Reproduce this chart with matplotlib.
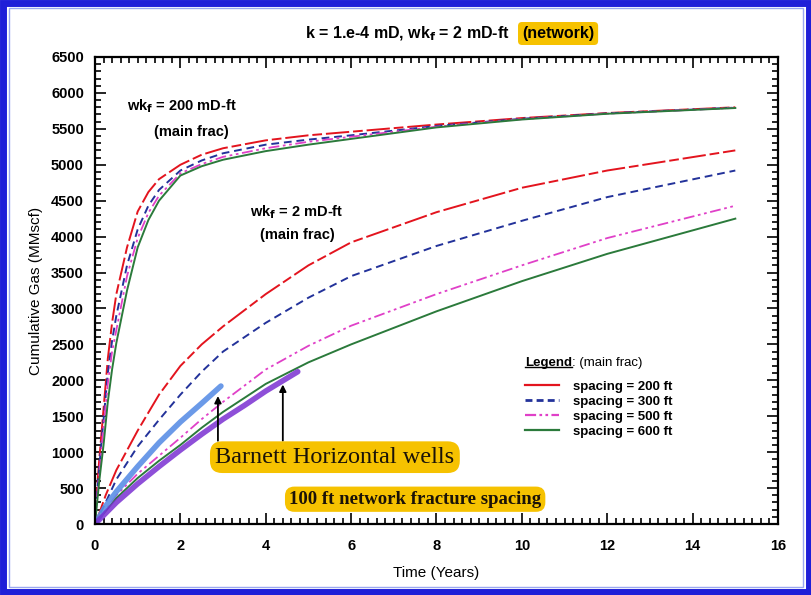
import matplotlib
matplotlib.use("Agg")
import matplotlib.pyplot as plt
from matplotlib.lines import Line2D
from matplotlib.patches import Rectangle
from matplotlib.ticker import MultipleLocator

plt.rcParams['font.family'] = ['Liberation Sans', 'DejaVu Sans']

# ---------------- data ----------------
t_high = [0, 0.05, 0.1, 0.2, 0.3, 0.4, 0.5, 0.75, 1, 1.25, 1.5, 2, 2.5, 3, 4, 5, 6, 8, 10, 12, 15]
red_high = [0, 500, 900, 1600, 2300, 2800, 3200, 3850, 4350, 4620, 4800, 5000, 5140, 5230, 5340, 5410, 5460, 5560, 5650, 5720, 5800]
blue_high = [0, 450, 800, 1450, 2100, 2550, 2900, 3600, 4100, 4430, 4650, 4920, 5060, 5160, 5280, 5350, 5410, 5540, 5640, 5715, 5795]
mag_high = [0, 400, 700, 1350, 1950, 2400, 2700, 3450, 3980, 4330, 4570, 4880, 5010, 5110, 5230, 5320, 5390, 5530, 5635, 5712, 5792]
green_high = [0, 300, 600, 1100, 1700, 2150, 2520, 3250, 3850, 4230, 4500, 4850, 4980, 5070, 5190, 5280, 5360, 5520, 5630, 5710, 5790]

t_low = [0, 0.1, 0.25, 0.5, 1, 1.5, 2, 2.5, 3, 4, 5, 6, 8, 10, 12, 15]
red_low = [0, 150, 400, 750, 1300, 1800, 2200, 2500, 2750, 3200, 3600, 3920, 4340, 4680, 4920, 5200]
blue_low = [0, 120, 300, 620, 1080, 1450, 1800, 2120, 2400, 2800, 3150, 3450, 3870, 4220, 4550, 4920]
mag_low = [0, 80, 200, 400, 700, 950, 1200, 1460, 1700, 2150, 2480, 2760, 3200, 3600, 3980, 4430]
green_low = [0, 70, 180, 360, 640, 880, 1100, 1340, 1560, 1950, 2250, 2500, 2960, 3380, 3760, 4250]

t_well1 = [0, 0.25, 0.5, 1, 1.5, 2, 2.5, 2.95]
well1 = [0, 250, 450, 800, 1130, 1420, 1680, 1920]
t_well2 = [0, 0.25, 0.5, 1, 1.5, 2, 2.5, 3, 3.5, 4, 4.5, 4.75]
well2 = [0, 150, 300, 560, 800, 1030, 1250, 1460, 1650, 1850, 2030, 2120]

spacing_labels = ['spacing = 200 ft', 'spacing = 300 ft', 'spacing = 500 ft', 'spacing = 600 ft']
x_ticks = [0, 2, 4, 6, 8, 10, 12, 14, 16]
y_ticks = list(range(0, 6501, 500))

# ---------------- styles ----------------
RED = '#e3141e'
BLUE = '#23329a'
MAG = '#e040c8'
GREEN = '#2b7a3b'
LBLUE = '#5b8fe6'
PURPLE = '#7a30d2'
GOLD = '#f6c200'

styles = [
    dict(color=RED, lw=1.4, dashes=(12, 2, 5, 2)),
    dict(color=BLUE, lw=1.4, dashes=(4, 2.5)),
    dict(color=MAG, lw=1.3, dashes=(6, 2, 1.5, 2, 1.5, 2)),
    dict(color=GREEN, lw=1.4),
]

fig = plt.figure(figsize=(8.12, 5.95), dpi=100)
ax = fig.add_axes([95 / 812, 1 - 524 / 595, (778 - 95) / 812, (524 - 57) / 595])

for y, st in zip([red_high, blue_high, mag_high, green_high], styles):
    ax.plot(t_high, y, **st)
for y, st in zip([red_low, blue_low, mag_low, green_low], styles):
    ax.plot(t_low, y, **st)

ax.plot(t_well1, well1, color=LBLUE, lw=4, solid_capstyle='round', alpha=0.9)
ax.plot(t_well2, well2, color=PURPLE, lw=4, solid_capstyle='round', alpha=0.85)

ax.set_xlim(0, 16)
ax.set_ylim(0, 6500)
ax.set_xticks(x_ticks)
ax.set_yticks(y_ticks)
ax.xaxis.set_minor_locator(MultipleLocator(0.2))
ax.yaxis.set_minor_locator(MultipleLocator(100))
ax.tick_params(which='both', direction='in', top=True, right=True, width=1.2)
ax.tick_params(which='major', length=8, labelsize=10.5)
ax.tick_params(axis='x', which='major', pad=11)
ax.tick_params(axis='y', which='major', pad=8)
ax.tick_params(which='minor', length=4)
for lab in ax.get_xticklabels() + ax.get_yticklabels():
    lab.set_fontweight('bold')
for s in ax.spines.values():
    s.set_linewidth(1.6)

ax.set_xlabel('Time (Years)', fontsize=11, labelpad=9)
ax.set_ylabel('Cumulative Gas (MMscf)', fontsize=11, labelpad=6)

# annotations
ax.text(0.75, 5810, 'wk$_\\mathbf{f}$ = 200 mD-ft', fontsize=10.5, fontweight='bold', va='center', ha='left')
ax.text(2.25, 5460, '(main frac)', fontsize=10.5, fontweight='bold', va='center', ha='center')
ax.text(4.73, 4345, 'wk$_\\mathbf{f}$ = 2 mD-ft', fontsize=10.5, fontweight='bold', va='center', ha='center')
ax.text(4.73, 4025, '(main frac)', fontsize=10.5, fontweight='bold', va='center', ha='center')

ax.annotate('', xy=(2.88, 1820), xytext=(2.88, 1120),
            arrowprops=dict(arrowstyle='-|>', color='black', lw=1.3, mutation_scale=10))
ax.annotate('', xy=(4.4, 1980), xytext=(4.4, 1120),
            arrowprops=dict(arrowstyle='-|>', color='black', lw=1.3, mutation_scale=10))

ax.text(5.62, 930, 'Barnett Horizontal wells', fontsize=17.5, family=['Liberation Serif', 'DejaVu Serif'],
        ha='center', va='center', color='#1a1208',
        bbox=dict(boxstyle='round,pad=0.22,rounding_size=0.5', fc=GOLD, ec='none'))
ax.text(7.5, 345, '100 ft network fracture spacing', fontsize=13.5, fontweight='bold',
        family=['Liberation Serif', 'DejaVu Serif'], ha='center', va='center', color='#1a1208',
        bbox=dict(boxstyle='round,pad=0.22,rounding_size=0.5', fc=GOLD, ec='none'))

# legend
handles = [
    Line2D([], [], color=RED, lw=1.6),
    Line2D([], [], color=BLUE, lw=2, dashes=(2.5, 1.5)),
    Line2D([], [], color=MAG, lw=1.6, dashes=(5, 1.5, 1.2, 1.5, 1.2, 1.5)),
    Line2D([], [], color=GREEN, lw=1.6),
]
leg = ax.legend(handles, spacing_labels, loc='upper left', bbox_to_anchor=(0.622, 0.318),
                frameon=False, fontsize=9.5, handlelength=2.6, handletextpad=1.0,
                labelspacing=0.2, borderaxespad=0)
for txt in leg.get_texts():
    txt.set_fontweight('bold')
lt = ax.text(0.63, 0.345, 'Legend', transform=ax.transAxes, fontsize=9.5, fontweight='bold',
             ha='left', va='center')
fig.canvas.draw()
bb = lt.get_window_extent().transformed(ax.transAxes.inverted())
ax.text(bb.x1, 0.345, ': (main frac)', transform=ax.transAxes, fontsize=9.5,
        ha='left', va='center')
uy = bb.y0 + 0.15 * (bb.y1 - bb.y0)
ax.plot([bb.x0, bb.x1], [uy, uy], transform=ax.transAxes, color='black', lw=1)

# title
fig.text(510 / 812, 1 - 38 / 595, 'k = 1.e-4 mD, wk$_\\mathbf{f}$ = 2 mD-ft', fontsize=11.5,
         fontweight='bold', ha='right', va='baseline')
fig.text(522 / 812, 1 - 38 / 595, '(network)', fontsize=11.5, fontweight='bold', ha='left',
         va='baseline', bbox=dict(boxstyle='round,pad=0.25', fc=GOLD, ec='none'))

# outer blue frame
fig.patches.append(Rectangle((0.004, 0.005), 0.992, 0.99, transform=fig.transFigure,
                             fill=False, ec='#1f1fd8', lw=5))
fig.patches.append(Rectangle((0.011, 0.014), 0.978, 0.972, transform=fig.transFigure,
                             fill=False, ec='#9aa8f0', lw=1))

fig.savefig('out.png', dpi=100)
